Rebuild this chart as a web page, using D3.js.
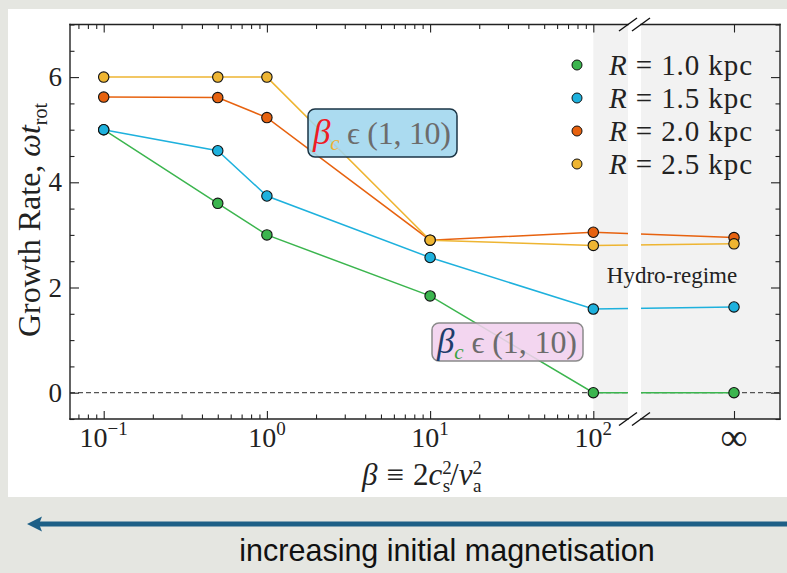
<!DOCTYPE html>
<html><head><meta charset="utf-8">
<script src="https://cdn.jsdelivr.net/npm/d3@7"></script>
<style>body{margin:0;background:#fff}svg{display:block}</style>
</head><body>
<script>
// ---- data ----
const betaValues = [0.1, 0.5, 1, 10, 100, Infinity];
const radiusLabels = ["1.0", "1.5", "2.0", "2.5"];
const growthR10 = [5.0, 3.6, 3.0, 1.84, 0, 0];
const growthR15 = [5.0, 4.6, 3.74, 2.57, 1.59, 1.63];
const growthR20 = [5.62, 5.61, 5.23, 2.9, 3.05, 2.95];
const growthR25 = [6.0, 6.0, 6.0, 2.9, 2.8, 2.83];
const seriesColors = ["#3bb54e", "#1eb1dd", "#e7620f", "#eeb532"];
const yTickValues = [0, 2, 4, 6];
const xTickExponents = [-1, 0, 1, 2];

const series = [growthR10, growthR15, growthR20, growthR25].map((vals, i) => ({
  label: radiusLabels[i], color: seriesColors[i],
  points: betaValues.map((b, j) => ({ b, g: vals[j] }))
}));

const W = 787, H = 573;
const L = 70, R = 780, T = 24.5, B = 419;
const gapL = 628, gapR = 641;
const serif = "'Liberation Serif', 'DejaVu Serif', serif";

const svg = d3.select("body").append("svg").attr("width", W).attr("height", H);

// background
svg.append("rect").attr("width", W).attr("height", H).attr("fill", "#e5e6e1");
svg.append("rect").attr("x", 8).attr("y", 9).attr("width", W - 8).attr("height", 488).attr("fill", "#fff");

const xLog = d3.scaleLog().domain([0.1, 100]).range([103.7, 593.3]);
const xInf = d3.scalePoint().domain(["∞"]).range([688, 780]);
const xPos = b => isFinite(b) ? xLog(b) : xInf("∞");
const y = d3.scaleLinear().domain([-0.5, 7]).range([B, T]);

// hydro regime shading
svg.append("rect").attr("x", xLog(100)).attr("y", T).attr("width", R - xLog(100)).attr("height", B - T).attr("fill", "#f2f2f2");

// zero line
svg.append("line").attr("x1", L).attr("x2", R).attr("y1", y(0)).attr("y2", y(0))
  .attr("stroke", "#555").attr("stroke-width", 1.2).attr("stroke-dasharray", "5,3");

const line = d3.line().x(d => xPos(d.b)).y(d => y(d.g));
series.forEach(s => {
  svg.append("path").attr("d", line(s.points)).attr("fill", "none")
    .attr("stroke", s.color).attr("stroke-width", 1.5);
});

// axis break gap
svg.append("rect").attr("x", gapL).attr("y", T - 1).attr("width", gapR - gapL).attr("height", B - T + 1).attr("fill", "#fff");

series.forEach(s => {
  svg.append("g").selectAll("circle").data(s.points).join("circle")
    .attr("cx", d => xPos(d.b)).attr("cy", d => y(d.g)).attr("r", 5.2)
    .attr("fill", s.color).attr("stroke", "#111").attr("stroke-width", 1.1);
});

svg.append("text").attr("x", 672).attr("y", 283).attr("text-anchor", "middle")
  .attr("font-family", serif).attr("font-size", 23).attr("fill", "#222").text("Hydro-regime");

// ---- axes ----
const minorX = [];
for (let e = -2; e <= 1; e++) for (let k = 2; k <= 9; k++) {
  const v = k * Math.pow(10, e);
  if (xLog(v) >= L && xLog(v) <= xLog(100)) minorX.push(v);
}
const majorX = xTickExponents.map(e => Math.pow(10, e));
const minorY = d3.range(-0.5, 7.01, 0.5).filter(v => !yTickValues.includes(v));

function axisG(axis) {
  const g = svg.append("g").call(axis);
  g.select(".domain").remove();
  g.selectAll("text").remove();
  g.selectAll("line").attr("stroke", "#222").attr("stroke-width", 1.1);
  return g;
}
axisG(d3.axisBottom(xLog).tickValues(majorX).tickSize(-8)).attr("transform", `translate(0,${B})`);
axisG(d3.axisBottom(xLog).tickValues(minorX).tickSize(-4.5)).attr("transform", `translate(0,${B})`);
axisG(d3.axisTop(xLog).tickValues(majorX).tickSize(-8)).attr("transform", `translate(0,${T})`);
axisG(d3.axisTop(xLog).tickValues(minorX).tickSize(-4.5)).attr("transform", `translate(0,${T})`);
axisG(d3.axisBottom(xInf).tickSize(-8)).attr("transform", `translate(0,${B})`);
axisG(d3.axisTop(xInf).tickSize(-8)).attr("transform", `translate(0,${T})`);
axisG(d3.axisLeft(y).tickValues(yTickValues).tickSize(-9)).attr("transform", `translate(${L},0)`);
axisG(d3.axisLeft(y).tickValues(minorY).tickSize(-4.5)).attr("transform", `translate(${L},0)`);
axisG(d3.axisRight(y).tickValues(yTickValues).tickSize(-9)).attr("transform", `translate(${R},0)`);
axisG(d3.axisRight(y).tickValues(minorY).tickSize(-4.5)).attr("transform", `translate(${R},0)`);

// spines
const spine = (x1, y1, x2, y2) => svg.append("line").attr("x1", x1).attr("y1", y1).attr("x2", x2).attr("y2", y2)
  .attr("stroke", "#222").attr("stroke-width", 1.4).attr("stroke-linecap", "square");
spine(L, T, L, B); spine(R, T, R, B);
spine(L, T, gapL, T); spine(gapR, T, R, T);
spine(L, B, gapL, B); spine(gapR, B, R, B);
[T, B].forEach(yy => [gapL, gapR].forEach(xx => {
  svg.append("line").attr("x1", xx - 9).attr("y1", yy + 6.5).attr("x2", xx + 9).attr("y2", yy - 6.5)
    .attr("stroke", "#111").attr("stroke-width", 1.4);
}));

// tick labels
svg.append("g").selectAll("text").data(yTickValues).join("text")
  .attr("x", L - 8).attr("y", d => y(d) + 9).attr("text-anchor", "end")
  .attr("font-family", serif).attr("font-size", 27).attr("fill", "#222").text(d => d);

const xl = svg.append("g").selectAll("text").data(xTickExponents).join("text")
  .attr("x", e => xLog(Math.pow(10, e))).attr("y", 447).attr("text-anchor", "middle")
  .attr("font-family", serif).attr("font-size", 28).attr("fill", "#222");
xl.append("tspan").text("10");
xl.append("tspan").attr("font-size", 19).attr("dy", -12).text(e => e < 0 ? "−" + Math.abs(e) : e);
svg.append("text").attr("x", xInf("∞")).attr("y", 450).attr("text-anchor", "middle")
  .attr("font-family", serif).attr("font-size", 38).attr("fill", "#222").text("∞");

// axis titles
const xt = svg.append("text").attr("x", 422).attr("y", 485).attr("text-anchor", "middle")
  .attr("font-family", serif).attr("font-size", 31).attr("fill", "#222");
xt.append("tspan").attr("font-style", "italic").text("β");
xt.append("tspan").attr("dx", 9).text("≡");
xt.append("tspan").attr("dx", 9).text("2");
xt.append("tspan").attr("font-style", "italic").text("c");
xt.append("tspan").attr("font-size", 19).attr("dy", -11).text("2");
xt.append("tspan").attr("font-size", 19).attr("dx", -9).attr("dy", 18).text("s");
xt.append("tspan").attr("dy", -7).text("/");
xt.append("tspan").attr("font-style", "italic").text("v");
xt.append("tspan").attr("font-size", 19).attr("dy", -11).text("2");
xt.append("tspan").attr("font-size", 19).attr("dx", -9).attr("dy", 18).text("a");

const yt = svg.append("text").attr("transform", "translate(40,220) rotate(-90)").attr("text-anchor", "middle")
  .attr("font-family", serif).attr("font-size", 32).attr("fill", "#222");
yt.append("tspan").text("Growth Rate, ");
yt.append("tspan").attr("font-style", "italic").text("ωt");
yt.append("tspan").attr("font-size", 20).attr("dy", 7).text("rot");

// legend
const lg = svg.append("g").selectAll("g").data(series).join("g")
  .attr("transform", (d, i) => `translate(577,${65 + i * 33})`);
lg.append("circle").attr("r", 5).attr("fill", d => d.color).attr("stroke", "#111").attr("stroke-width", 1);
const lt = lg.append("text").attr("x", 32).attr("y", 10).attr("font-family", serif).attr("font-size", 29)
  .attr("fill", "#222").attr("textLength", 143).attr("lengthAdjust", "spacing");
lt.append("tspan").attr("font-style", "italic").text("R");
lt.append("tspan").text(d => ` = ${d.label} kpc`);

// annotations
function note(x, yy, w, h, fill, stroke, betaCol, subCol) {
  svg.append("rect").attr("x", x).attr("y", yy).attr("width", w).attr("height", h).attr("rx", 7)
    .attr("fill", fill).attr("fill-opacity", 0.88).attr("stroke", stroke).attr("stroke-width", 1.5);
  const t = svg.append("text").attr("x", x + 5).attr("y", yy + h / 2 + 11)
    .attr("font-family", serif).attr("font-size", 32).attr("textLength", w - 11).attr("lengthAdjust", "spacing");
  t.append("tspan").attr("font-style", "italic").attr("font-size", 35).attr("fill", betaCol).text("β");
  t.append("tspan").attr("font-style", "italic").attr("font-size", 21).attr("dy", 6).attr("fill", subCol).text("c");
  t.append("tspan").attr("dy", -6).attr("fill", "#6c6c6c").text(" ϵ (1, 10)");
}
note(308, 109, 149, 48, "#9fd6ee", "#1b3545", "#ee1c24", "#efb22e");
note(432, 323, 151, 38, "#f1d0ee", "#8a8a8a", "#1f3d6b", "#3aa13f");

// bottom arrow + caption
svg.append("line").attr("x1", W).attr("x2", 38).attr("y1", 524).attr("y2", 524)
  .attr("stroke", "#1d5f86").attr("stroke-width", 5);
svg.append("path").attr("d", "M27,524 L42,516.5 L39,524 L42,531.5 Z").attr("fill", "#1d5f86");
svg.append("text").attr("x", 447).attr("y", 561).attr("text-anchor", "middle")
  .attr("font-family", "'Liberation Sans', Arial, sans-serif").attr("font-size", 30.5).attr("fill", "#111")
  .text("increasing initial magnetisation");
</script>
</body></html>
